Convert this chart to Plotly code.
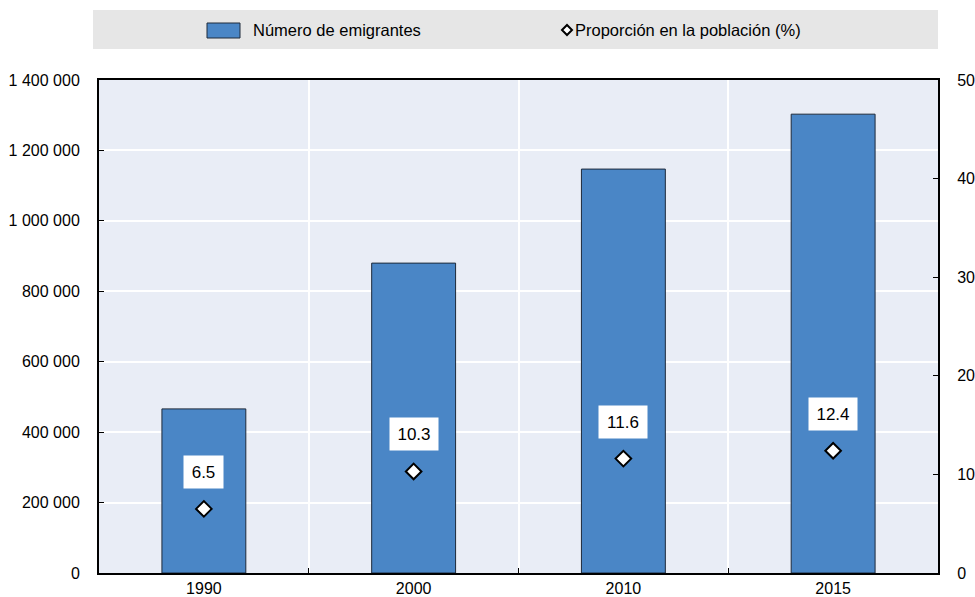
import plotly.graph_objects as go

years = ["1990", "2000", "2010", "2015"]
emigrants = [466000, 880000, 1147000, 1303000]
share_pct = [6.5, 10.3, 11.6, 12.4]
share_labels = ["6.5", "10.3", "11.6", "12.4"]
left_ticks = [0, 200000, 400000, 600000, 800000, 1000000, 1200000, 1400000]
right_ticks = [0, 10, 20, 30, 40, 50]
name_bar = "Número de emigrantes"
name_pt = "Proporción en la población (%)"

FONT = "Liberation Sans Narrow, Arial Narrow, Liberation Sans, Arial, sans-serif"
W, H = 975, 597
L, R, T, B = 99, 37, 80, 24
PW, PH = W - L - R, H - T - B

def px(x):
    return (x - L) / PW

def py(y):
    return (H - B - y) / PH

xs = list(range(len(years)))

fig = go.Figure()
fig.add_trace(go.Bar(
    x=xs, y=emigrants, name=name_bar, width=0.4,
    marker=dict(color="#4a86c6", line=dict(color="#1e2a3a", width=1)),
    showlegend=False, yaxis="y",
))
fig.add_trace(go.Scatter(
    x=xs, y=share_pct, name=name_pt, mode="markers", yaxis="y2",
    marker=dict(symbol="diamond", size=12, color="white",
                line=dict(color="black", width=2)),
    showlegend=False,
))

for i, (v, t) in enumerate(zip(share_pct, share_labels)):
    fig.add_annotation(
        x=i, y=v, xref="x", yref="y2", text=t, showarrow=False, yshift=37,
        bgcolor="white", borderpad=5, width=9 * len(t) + 2, height=22,
        font=dict(family=FONT, size=17, color="black"),
    )

# legend band
shapes = [
    dict(type="rect", xref="paper", yref="paper", x0=px(93), x1=px(938),
         y0=py(49), y1=py(10), fillcolor="#e6e6e6", line=dict(width=0), layer="below"),
    dict(type="rect", xref="paper", yref="paper", x0=px(207), x1=px(240),
         y0=py(38), y1=py(23), fillcolor="#4a86c6", line=dict(color="#1e2a3a", width=1)),
]
cx, cy, d = 567, 30, 5
shapes.append(dict(
    type="path", xref="paper", yref="paper",
    path=f"M {px(cx - d)},{py(cy)} L {px(cx)},{py(cy - d)} L {px(cx + d)},{py(cy)} L {px(cx)},{py(cy + d)} Z",
    fillcolor="white", line=dict(color="black", width=2),
))
fig.add_annotation(x=px(251), y=py(30), xref="paper", yref="paper", text=name_bar,
                   showarrow=False, xanchor="left", yanchor="middle",
                   font=dict(family=FONT, size=16.5, color="black"))
fig.add_annotation(x=px(573), y=py(30), xref="paper", yref="paper", text=name_pt,
                   showarrow=False, xanchor="left", yanchor="middle",
                   font=dict(family=FONT, size=16.5, color="black"))

fig.update_layout(
    width=W, height=H, margin=dict(l=L, r=R, t=T, b=B, pad=0, autoexpand=False),
    paper_bgcolor="white", plot_bgcolor="#e9edf6",
    separators=". ", shapes=shapes, bargap=0.6,
    font=dict(family=FONT, size=16, color="black"),
    xaxis=dict(
        range=[-0.5, 3.5], tickvals=xs, ticktext=years, ticks="",
        showgrid=False, zeroline=False, showline=True, linecolor="black",
        linewidth=2, mirror=True, tickfont=dict(size=16), automargin=False,
        ticklabelstandoff=0,
        minor=dict(tickvals=[0.5, 1.5, 2.5], ticks="inside", ticklen=5,
                   tickcolor="black", showgrid=True, gridcolor="white", gridwidth=2),
    ),
    yaxis=dict(
        range=[0, 1400000], tickvals=left_ticks, tickformat=",d", ticks="inside",
        ticklen=5, tickcolor="black", showgrid=True, gridcolor="white", gridwidth=2,
        zeroline=False, showline=True, linecolor="black", linewidth=2,
        tickfont=dict(size=16), ticklabelstandoff=14, automargin=False,
    ),
    yaxis2=dict(
        range=[0, 50], tickvals=right_ticks, overlaying="y", side="right",
        ticks="inside", ticklen=5, tickcolor="black", showgrid=False,
        zeroline=False, showline=True, linecolor="black", linewidth=2,
        tickfont=dict(size=16), ticklabelstandoff=14, automargin=False,
    ),
)

fig.write_html("out.html", config={"displayModeBar": False},
               post_script="document.body.style.margin='0';")
